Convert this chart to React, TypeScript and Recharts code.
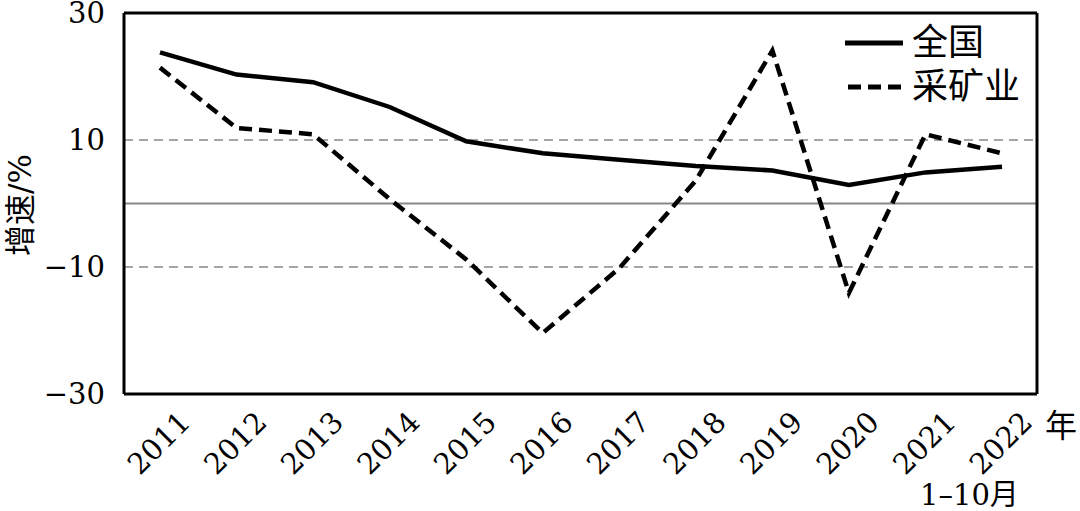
import React from "react"
import {
  LineChart,
  Line,
  XAxis,
  YAxis,
  ReferenceLine,
} from "recharts"

const years = ["2011", "2012", "2013", "2014", "2015", "2016", "2017", "2018", "2019", "2020", "2021", "2022"]
const national = [23.8, 20.3, 19.1, 15.2, 9.8, 7.9, 6.9, 5.9, 5.2, 2.9, 4.9, 5.8]
const mining = [21.4, 11.9, 10.9, 0.7, -8.8, -20.4, -10.2, 3.6, 24.1, -14.1, 10.9, 7.9]
const yTicks = [30, 10, -10, -30]

const data = years.map((y, i) => ({ year: y, national: national[i], mining: mining[i] }))

const serif = "DejaVu Serif, Noto Sans CJK SC, serif"
const txt = { fontFamily: serif, fill: "#000" }

function YearTick(props: any) {
  const { x, y, payload } = props
  const tx = x + 32
  const ty = y + 22
  return (
    <text
      x={tx}
      y={ty}
      transform={`rotate(-45 ${tx} ${ty})`}
      textAnchor="end"
      style={{ ...txt, fontSize: 29 }}
    >
      {payload.value}
    </text>
  )
}

function LegendBox() {
  return (
    <g>
      <line x1={845} y1={43} x2={903} y2={43} stroke="#000" strokeWidth={5} />
      <text x={912} y={55} style={{ ...txt, fontSize: 36 }}>全国</text>
      <line x1={848} y1={87} x2={903} y2={87} stroke="#000" strokeWidth={5} strokeDasharray="13 7" />
      <text x={912} y={99} style={{ ...txt, fontSize: 36 }}>采矿业</text>
    </g>
  )
}

export default function App() {
  return (
    <div style={{ position: "absolute", left: 0, top: 0, width: 1080, height: 511, background: "#fff" }}>
      <LineChart
        width={1080}
        height={511}
        data={data}
        margin={{ top: 12, right: 42, left: 0, bottom: 0 }}
      >
        <ReferenceLine y={10} stroke="#888" strokeWidth={1.5} strokeDasharray="9 6" />
        <ReferenceLine y={-10} stroke="#888" strokeWidth={1.5} strokeDasharray="9 6" />
        <ReferenceLine y={0} stroke="#888" strokeWidth={2} />
        <XAxis
          dataKey="year"
          interval={0}
          padding={{ left: 36, right: 35 }}
          height={117}
          tickLine={false}
          axisLine={{ stroke: "#000", strokeWidth: 3 }}
          tick={<YearTick />}
        />
        <XAxis
          xAxisId="top"
          dataKey="year"
          orientation="top"
          height={1}
          tick={false}
          tickLine={false}
          axisLine={{ stroke: "#000", strokeWidth: 3 }}
        />
        <YAxis
          domain={[-30, 30]}
          ticks={yTicks}
          interval={0}
          width={124}
          tickLine={false}
          tickMargin={13}
          axisLine={{ stroke: "#000", strokeWidth: 3 }}
          tickFormatter={(v: number) => (v < 0 ? `\u2212${Math.abs(v)}` : `${v}`)}
          tick={{ ...txt, fontSize: 29 }}
        />
        <YAxis
          yAxisId="right"
          orientation="right"
          domain={[-30, 30]}
          width={1}
          tick={false}
          tickLine={false}
          axisLine={{ stroke: "#000", strokeWidth: 3 }}
        />
        <Line
          dataKey="national"
          stroke="#000"
          strokeWidth={4.5}
          dot={false}
          isAnimationActive={false}
        />
        <Line
          dataKey="mining"
          stroke="#000"
          strokeWidth={4.5}
          strokeDasharray="13 7"
          dot={false}
          isAnimationActive={false}
        />
        <LegendBox />
        <text
          x={31}
          y={205}
          transform="rotate(-90 31 205)"
          textAnchor="middle"
          style={{ ...txt, fontSize: 31 }}
        >
          增速/%
        </text>
        <text x={1045} y={437} style={{ ...txt, fontSize: 32 }}>年</text>
        <text x={920} y={505} style={{ ...txt, fontSize: 29 }}>1–10月</text>
      </LineChart>
    </div>
  )
}
